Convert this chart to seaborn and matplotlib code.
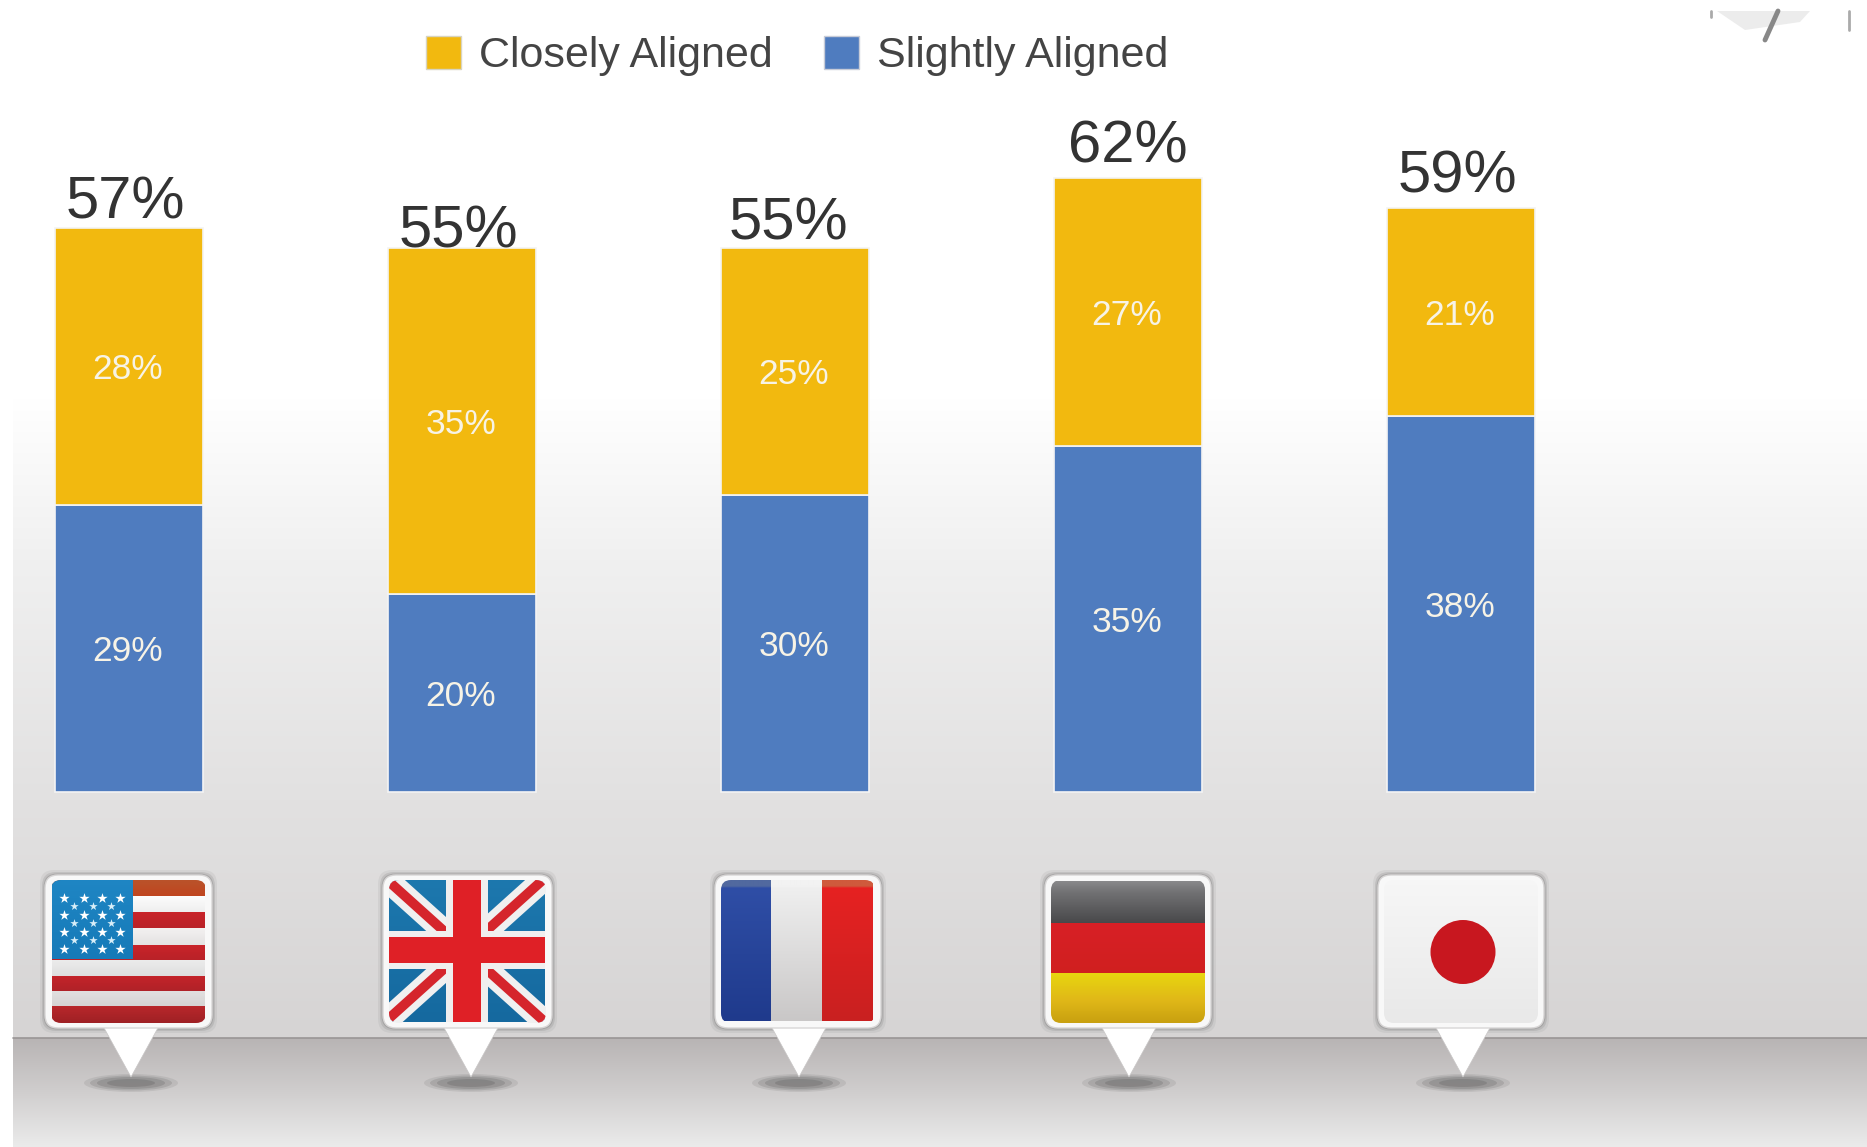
import numpy as np
import pandas as pd
import seaborn as sns
import matplotlib.pyplot as plt
from matplotlib.colors import to_rgb
from matplotlib.patches import Ellipse, FancyBboxPatch, Patch, Polygon, Rectangle

countries = ["USA", "UK", "France", "Germany", "Japan"]
closely_aligned = [28, 35, 25, 27, 21]
slightly_aligned = [29, 20, 30, 35, 38]
total_labels = ["57%", "55%", "55%", "62%", "59%"]
legend_labels = ["Closely Aligned", "Slightly Aligned"]

GOLD = "#f2b90f"
BLUE = "#4f7cbf"
W, H = 1867, 1147
FLOOR_Y = 1038

# gap between bar top and the total label, differs per bar in the original
label_gaps = [25, 15, 23, 31, 31]
label_shifts = [-3, -3, -6, 0, -3]


def gradient(ax, x0, x1, y0, y1, stops, clip=None):
    """Vertical colour gradient, stops are (y, colour) pairs in pixels."""
    ys = np.arange(y0, y1) + 0.5
    pos = [s[0] for s in stops]
    cols = np.array([to_rgb(s[1]) for s in stops])
    img = np.stack([np.interp(ys, pos, cols[:, i]) for i in range(3)], axis=1)[:, None, :]
    im = ax.imshow(img, extent=(x0, x1, y1, y0), aspect="auto", zorder=1, interpolation="bilinear")
    if clip is not None:
        im.set_clip_path(clip)
    return im


def draw_background(ax):
    gradient(ax, 13, W, 0, FLOOR_Y, [(0, "#ffffff"), (400, "#ffffff"), (560, "#f0f0f0"),
                                     (800, "#e2e1e1"), (FLOOR_Y, "#d6d4d4")])
    gradient(ax, 13, W, FLOOR_Y, H, [(FLOOR_Y, "#b8b4b4"), (1090, "#cfcdcd"), (H, "#ebebeb")])
    ax.plot([13, W], [FLOOR_Y, FLOOR_Y], color="#999595", lw=1.2, zorder=2)
    ax.add_patch(Rectangle((0, 0), W, 11, fc="white", ec="none", zorder=2))
    # clipped leftover of a picture in the top right corner
    ax.add_patch(Polygon([(1717, 11), (1810, 11), (1800, 22), (1745, 30)], fc="#ececec", ec="none", zorder=3))
    ax.plot([1778, 1765], [11, 40], color="#888888", lw=3.5, zorder=3)
    ax.plot([1711, 1711], [11, 17], color="#aaaaaa", lw=2, zorder=3)
    ax.plot([1849, 1849], [11, 30], color="#aaaaaa", lw=2, zorder=3)


def draw_pin(ax, x0, x1, tip_x):
    """White rounded card with its pointer and ground shadow, returns the clip patch."""
    y0, y1 = 875, 1028
    for grow, alpha in [(5, 0.08), (3, 0.14), (1.5, 0.22)]:
        ax.add_patch(FancyBboxPatch((x0 - grow, y0 - grow), x1 - x0 + 2 * grow, y1 - y0 + 2 * grow,
                                    boxstyle="round,pad=0,rounding_size=14", fc="#555555", ec="none",
                                    alpha=alpha, zorder=3))
    for w, h, alpha in [(94, 18, 0.12), (82, 15, 0.18), (68, 12, 0.22), (48, 8, 0.25)]:
        ax.add_patch(Ellipse((tip_x, 1083), w, h, fc="#555555", ec="none", alpha=alpha, zorder=3))
    ax.add_patch(Polygon([(tip_x - 28, 1026), (tip_x + 28, 1026), (tip_x, 1077)], fc="white", ec="#c8c6c6",
                         lw=0.5, zorder=4))
    ax.add_patch(FancyBboxPatch((x0, y0), x1 - x0, y1 - y0, boxstyle="round,pad=0,rounding_size=13",
                                fc="#f8f8f8", ec="#d8d6d6", lw=1, zorder=5))
    inner = FancyBboxPatch((x0 + 6, y0 + 5), x1 - x0 - 12, y1 - y0 - 10, boxstyle="round,pad=0,rounding_size=10",
                           fc="none", ec="none", transform=ax.transData, zorder=5)
    ax.add_patch(inner)
    return inner


def clipped(artist, clip, z=6):
    artist.set_zorder(z)
    artist.set_clip_path(clip)
    return artist


def flag_usa(ax, clip):
    x0, x1 = 52, 205
    rows = [(878, 896, "#b9552c", "#c0451f"), (896, 912, "#fdfdfd", "#eeeeee"), (912, 928, "#c9242a", "#b92228"),
            (928, 945, "#f3f1f1", "#e4e2e2"), (945, 960, "#c9242a", "#b92228"), (960, 976, "#ececec", "#dedede"),
            (976, 991, "#c4242a", "#b02228"), (991, 1006, "#e2e0e0", "#d6d4d4"), (1006, 1023, "#b9282c", "#9e2024")]
    for y0, y1, c0, c1 in rows:
        im = gradient(ax, x0, x1, y0, y1, [(y0, c0), (y1, c1)], clip)
        im.set_zorder(6)
    im = gradient(ax, x0, 133, 878, 959, [(878, "#1f86c4"), (959, "#167ab8")], clip)
    im.set_zorder(7)
    sx, sy = np.meshgrid([64, 84, 102, 120], [898, 915, 932, 949])
    ax.scatter(sx.ravel(), sy.ravel(), marker="*", s=60, c="white", lw=0, zorder=8)
    sx, sy = np.meshgrid([74, 93, 111], [906, 923, 940])
    ax.scatter(sx.ravel(), sy.ravel(), marker="*", s=40, c="#d8eef8", lw=0, zorder=8)


def flag_uk(ax, clip):
    x0, x1, y0, y1 = 385, 545, 878, 1022
    cx, cy = 467, 950
    im = gradient(ax, x0, x1, y0, y1, [(y0, "#1d78ae"), (y1, "#15699f")], clip)
    im.set_zorder(6)
    for (a, b) in [((x0, y0), (x1, y1)), ((x0, y1), (x1, y0))]:
        clipped(ax.plot(*zip(a, b), color="#f0f0f0", lw=17, solid_capstyle="butt")[0], clip, 7)
        clipped(ax.plot(*zip(a, b), color="#d5252c", lw=7, solid_capstyle="butt")[0], clip, 8)
    clipped(ax.add_patch(Rectangle((x0, cy - 19), x1 - x0, 38, fc="#f0eeee", ec="none")), clip, 9)
    clipped(ax.add_patch(Rectangle((cx - 21, y0), 42, y1 - y0, fc="#f0eeee", ec="none")), clip, 9)
    clipped(ax.add_patch(Rectangle((x0, cy - 13), x1 - x0, 26, fc="#df2026", ec="none")), clip, 10)
    clipped(ax.add_patch(Rectangle((cx - 14, y0), 28, y1 - y0, fc="#df2026", ec="none")), clip, 10)


def flag_france(ax, clip):
    y0, y1 = 873, 1021
    for x0, x1, top, c0, c1 in [(720, 771, "#51699f", "#2f4ea6", "#1f3a8c"),
                                (771, 822, "#f2f2f2", "#efefef", "#c9c7c7"),
                                (822, 873, "#cf5a3c", "#e62222", "#c92020")]:
        im = gradient(ax, x0, x1, y0, y1, [(y0, top), (886, top), (888, c0), (y1, c1)], clip)
        im.set_zorder(6)


def flag_germany(ax, clip):
    x0, x1 = 1051, 1205
    bands = [(881, 923, [(881, "#8a8a8c"), (892, "#727274"), (923, "#48484a")]),
             (923, 973, [(923, "#d81f26"), (973, "#d0201f")]),
             (973, 1023, [(973, "#e8d60f"), (1000, "#e0b818"), (1023, "#c8a010")])]
    for y0, y1, stops in bands:
        im = gradient(ax, x0, x1, y0, y1, stops, clip)
        im.set_zorder(6)


def flag_japan(ax, clip):
    im = gradient(ax, 1378, 1544, 875, 1030, [(875, "#f7f7f7"), (1030, "#e8e8e8")], clip)
    im.set_zorder(6)
    ax.add_patch(Ellipse((1463, 952), 65, 64, fc="#c8171f", ec="none", zorder=8))


def draw_flags(ax):
    pins = [(45, 212, 131, flag_usa), (383, 552, 471, flag_uk), (715, 881, 799, flag_france),
            (1045, 1211, 1129, flag_germany), (1378, 1544, 1463, flag_japan)]
    for x0, x1, tip, flag in pins:
        clip = draw_pin(ax, x0, x1, tip)
        flag(ax, clip)


def plot_bars(ax, df):
    """Stacked bars, the yellow part sits on the blue one."""
    sns.barplot(data=df, x="country", y="slightly", color=BLUE, saturation=1, width=0.444,
                edgecolor="#f4f4f4", linewidth=1.2, ax=ax)
    sns.barplot(data=df, x="country", y="closely", color=GOLD, saturation=1, width=0.444,
                bottom=df["slightly"].values, edgecolor="#f4f4f4", linewidth=1.2, ax=ax)
    for container in ax.containers:
        for text in ax.bar_label(container, fmt="%g%%", label_type="center", color="#f7f3e6", fontsize=25.5):
            text.xyann = (-0.5, -2.5)

    totals = df["closely"] + df["slightly"]
    for i, (top, label) in enumerate(zip(totals, total_labels)):
        ax.annotate(label, (i, top), xytext=(label_shifts[i] * 0.72, label_gaps[i] * 0.72),
                    textcoords="offset points", ha="center", va="center", fontsize=43, color="#333333",
                    zorder=20)

    # pixel mapping: bar spacing 333 px, baseline at y=792, 9.9 px per percent
    ax.set_xlim(-128.6 / 333, (W - 128.6) / 333)
    ax.set_ylim(-(H - 792) / 9.9, 792 / 9.9)
    ax.axis("off")

    handles = [Patch(fc=GOLD, ec="#d8d4c0"), Patch(fc=BLUE, ec="#c8ccd8")]
    ax.legend(handles, legend_labels, ncol=2, frameon=False, fontsize=31, labelcolor="#444444",
              loc="center left", bbox_to_anchor=(426 / W, 1 - 56 / H), borderaxespad=0, borderpad=0,
              handlelength=0.82, handleheight=0.8, handletextpad=0.42, columnspacing=1.17)


def main():
    df = pd.DataFrame({"country": countries, "closely": closely_aligned, "slightly": slightly_aligned})

    sns.set_theme(style="white")
    plt.rcParams["font.family"] = ["Liberation Sans", "DejaVu Sans"]

    fig = plt.figure(figsize=(W / 100, H / 100), dpi=100, facecolor="white")
    bg = fig.add_axes([0, 0, 1, 1])
    draw_background(bg)
    draw_flags(bg)
    bg.set_xlim(0, W)
    bg.set_ylim(H, 0)
    bg.axis("off")

    ax = fig.add_axes([0, 0, 1, 1], facecolor="none", zorder=2)
    plot_bars(ax, df)

    fig.savefig("out.png", dpi=100)


main()
